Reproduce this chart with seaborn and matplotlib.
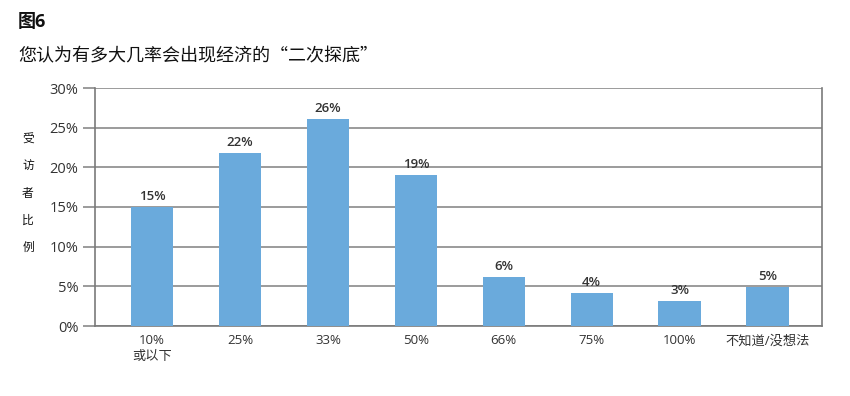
import numpy as np
import pandas as pd
import seaborn as sns
from matplotlib import pyplot as plt

categories = ['10%\n或以下', '25%', '33%', '50%', '66%', '75%', '100%', '不知道/没想法']
values = [15.0, 21.8, 26.1, 19.0, 6.2, 4.2, 3.1, 4.9]
value_labels = ['15%', '22%', '26%', '19%', '6%', '4%', '3%', '5%']
yticks = [0, 5, 10, 15, 20, 25, 30]

sns.set_theme(style='white')
plt.rcParams['font.family'] = ['Open Sans', 'Noto Sans CJK SC', 'DejaVu Sans']

df = pd.DataFrame({'cat': categories, 'val': values})

fig = plt.figure(figsize=(8.5, 3.96), dpi=100)
ax = fig.add_axes([95 / 850, 1 - 326 / 396, (822 - 95) / 850, (326 - 88) / 396])

sns.barplot(data=df, x='cat', y='val', color='#6aaadc', saturation=1,
            width=0.48, linewidth=0, ax=ax, zorder=3)

for i, (v, lab) in enumerate(zip(values, value_labels)):
    ax.text(i, v + 0.5, lab, ha='center', va='bottom', fontsize=9.5,
            fontweight='semibold', color='#333333')

ax.set_ylim(0, 30)
ax.set_xlim(-0.65, 7.62)
ax.set_yticks(yticks)
ax.set_yticklabels([f'{t}%' for t in yticks], fontsize=10.5, color='#333333')
ax.yaxis.grid(True, color='#8a8a8a', linewidth=1.2, zorder=0)
ax.set_axisbelow(True)
ax.tick_params(axis='y', length=9, width=1.2, color='#8a8a8a', direction='out', left=True, pad=3)
ax.tick_params(axis='x', length=0, pad=6, labelsize=9.5, labelcolor='#333333')
ax.set_xlabel('')
ax.set_ylabel('')
for side in ['left', 'right', 'bottom']:
    ax.spines[side].set_color('#7a7a7a')
    ax.spines[side].set_linewidth(1.2)
ax.spines['top'].set_visible(False)
for lbl in ax.get_xticklabels():
    lbl.set_linespacing(1.3)

fig.text(28 / 850, 1 - 193 / 396, '受\n\n访\n\n者\n\n比\n\n例', ha='center', va='center',
         fontsize=8.5, color='#111111', linespacing=1.05)
fig.text(18 / 850, 1 - 22 / 396, '图6', ha='left', va='center', fontsize=13,
         fontweight='bold', color='#111111')
fig.text(18 / 850, 1 - 56 / 396, '您认为有多大几率会出现经济的“二次探底”', ha='left', va='center',
         fontsize=13, color='#111111', family=['Noto Sans CJK SC', 'DejaVu Sans'])

fig.savefig('out.png', dpi=100, facecolor='white')
